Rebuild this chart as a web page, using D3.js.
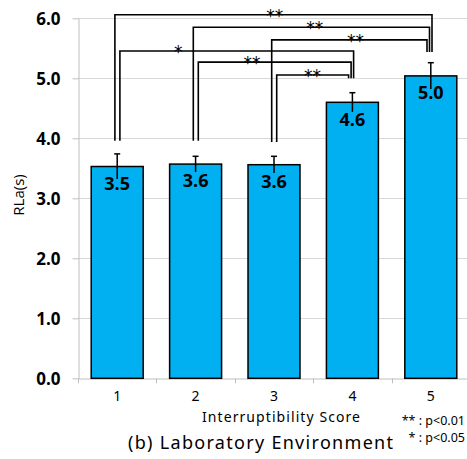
<!DOCTYPE html>
<html>
<head>
<meta charset="utf-8">
<script src="https://cdn.jsdelivr.net/npm/d3@7/dist/d3.min.js"></script>
<style>
  html, body { margin: 0; padding: 0; background: #fff; }
  svg { display: block; }
</style>
</head>
<body>
<svg id="chart" width="467" height="459"></svg>
<script>
// Interruptibility score categories and mean RLa with error (s)
const scores = ["1", "2", "3", "4", "5"];
const rlaMeans = [3.53, 3.57, 3.56, 4.60, 5.04];
const rlaErrors = [0.21, 0.13, 0.14, 0.16, 0.22];
const yTicks = [0, 1, 2, 3, 4, 5, 6];

// Pairwise significance brackets
const pairFrom = ["1", "2", "3", "1", "2", "3"];
const pairTo = ["5", "5", "5", "4", "4", "4"];
const pairLevel = [6.06, 5.85, 5.64, 5.455, 5.27, 5.055];
const pairMark = ["**", "**", "**", "*", "**", "**"];
const pairMarkAt = [3.01, 3.52, 4.04, 1.78, 2.72, 3.49]; // in score units
const legFoot = { "1": 3.96, "2": 3.96, "3": 3.94, "4": 5.0, "5": 5.44 };

const legendLines = ["** : p<0.01", "* : p<0.05"];

const svg = d3.select("#chart");
const x0 = 78, x1 = 470, yBottom = 378.3;

const x = d3.scaleBand().domain(scores).range([x0, x1]).paddingInner(0.337).paddingOuter(0.1685);
const y = d3.scaleLinear().domain([0, 6]).range([yBottom, yBottom - 360]);
const scoreX = d3.scaleLinear().domain([1, 5]).range([x("1") + x.bandwidth() / 2, x("5") + x.bandwidth() / 2]);
const cx = s => x(s) + x.bandwidth() / 2;

// gridlines
svg.append("g")
  .selectAll("line").data(yTicks.filter(d => d > 0)).join("line")
  .attr("x1", x0).attr("x2", 467)
  .attr("y1", d => Math.round(y(d)) + 0.5).attr("y2", d => Math.round(y(d)) + 0.5)
  .attr("stroke", "#d9d9d9").attr("stroke-width", 1);

// y axis
const yAxis = svg.append("g").attr("transform", `translate(${x0 + 0.5},0)`)
  .call(d3.axisLeft(y).tickValues(yTicks).tickFormat(d3.format(".1f")).tickSize(6).tickSizeOuter(0));
yAxis.select(".domain").attr("stroke", "#bfbfbf");
yAxis.selectAll(".tick line").attr("stroke", "#bfbfbf");
yAxis.selectAll(".tick text")
  .attr("x", -18).attr("dy", "0.36em")
  .style("font-family", "'Open Sans', sans-serif").style("font-weight", 700)
  .style("font-size", "17px").attr("fill", "#000");

// x axis
const xAxis = svg.append("g").attr("transform", `translate(0,${Math.round(yBottom) + 0.5})`)
  .call(d3.axisBottom(x).tickSize(0).tickSizeOuter(0));
xAxis.select(".domain").attr("stroke", "#bfbfbf");
xAxis.selectAll(".tick text")
  .attr("y", 13)
  .style("font-family", "'Noto Sans', sans-serif").style("font-size", "14px").attr("fill", "#000");
// category separators on the x axis
svg.append("g").selectAll("line").data(scores).join("line")
  .attr("x1", d => Math.round(x(d) - x.step() * x.paddingInner() / 2) + 0.5)
  .attr("x2", d => Math.round(x(d) - x.step() * x.paddingInner() / 2) + 0.5)
  .attr("y1", yBottom).attr("y2", yBottom + 5)
  .attr("stroke", "#bfbfbf");

// bars
svg.append("g").selectAll("rect").data(scores).join("rect")
  .attr("x", d => x(d)).attr("width", x.bandwidth())
  .attr("y", (d, i) => y(rlaMeans[i]))
  .attr("height", (d, i) => y(0) - y(rlaMeans[i]))
  .attr("fill", "#00b0f0").attr("stroke", "#000").attr("stroke-width", 1.5);

// error bars
const eb = svg.append("g").attr("stroke", "#000").attr("stroke-width", 1.5);
scores.forEach((s, i) => {
  const hi = y(rlaMeans[i] + rlaErrors[i]), lo = y(rlaMeans[i] - rlaErrors[i]);
  eb.append("line").attr("x1", cx(s)).attr("x2", cx(s)).attr("y1", hi).attr("y2", lo);
  eb.append("line").attr("x1", cx(s) - 3).attr("x2", cx(s) + 3).attr("y1", hi).attr("y2", hi);
});

// value labels
svg.append("g").selectAll("text").data(scores).join("text")
  .attr("x", d => cx(d)).attr("y", (d, i) => y(rlaMeans[i]) + 23.3)
  .attr("text-anchor", "middle")
  .style("font-family", "'Open Sans', sans-serif").style("font-weight", 700).style("font-size", "18px")
  .attr("fill", "#000")
  .text((d, i) => d3.format(".1f")(rlaMeans[i]));

// significance brackets: legs spread slightly around each bar's centre
const brackets = pairFrom.map((f, i) => ({ f, t: pairTo[i], level: pairLevel[i], mark: pairMark[i], at: pairMarkAt[i] }));
const leftOff = new Map(), rightOff = new Map();
scores.forEach(s => {
  brackets.filter(b => b.f === s).sort((a, b) => b.level - a.level)
    .forEach((b, k) => leftOff.set(b, -2.3 + k * 5));
  brackets.filter(b => b.t === s).sort((a, b) => b.level - a.level)
    .forEach((b, k) => rightOff.set(b, 1.2 - k * 2.5));
});
const bg = svg.append("g");
brackets.forEach(b => {
  const xl = cx(b.f) + leftOff.get(b), xr = cx(b.t) + rightOff.get(b);
  const yl = y(b.level);
  bg.append("path")
    .attr("d", `M${xl},${y(legFoot[b.f])}V${yl}H${xr}V${y(legFoot[b.t])}`)
    .attr("fill", "none").attr("stroke", "#000").attr("stroke-width", 1.6);
  bg.append("text")
    .attr("x", scoreX(b.at)).attr("y", yl + 7)
    .attr("text-anchor", "middle")
    .style("font-family", "'DejaVu Sans', sans-serif").style("font-size", "17px")
    .attr("fill", "#000")
    .text(b.mark);
});

// axis titles
svg.append("text")
  .attr("transform", "translate(24,195) rotate(-90)")
  .attr("text-anchor", "middle")
  .style("font-family", "'Open Sans', sans-serif").style("font-size", "15px").attr("fill", "#000")
  .text("RLa(s)");

svg.append("text")
  .attr("x", 202).attr("y", 422)
  .attr("textLength", 158).attr("lengthAdjust", "spacing")
  .style("font-family", "'Noto Sans', sans-serif").style("font-size", "14px").attr("fill", "#000")
  .text("Interruptibility Score");

svg.append("text")
  .attr("x", 128).attr("y", 449)
  .attr("textLength", 265).attr("lengthAdjust", "spacing")
  .style("font-family", "'Noto Sans', sans-serif").style("font-size", "18px").attr("fill", "#000")
  .text("(b) Laboratory Environment");

// significance legend, right-aligned at the edge
svg.append("g").selectAll("text").data(legendLines).join("text")
  .attr("x", 465)
  .attr("y", (d, i) => 425 + i * 17)
  .attr("text-anchor", "end")
  .style("font-family", "'Noto Sans', sans-serif").style("font-size", "12.5px").attr("fill", "#000")
  .text(d => d);
</script>
</body>
</html>
